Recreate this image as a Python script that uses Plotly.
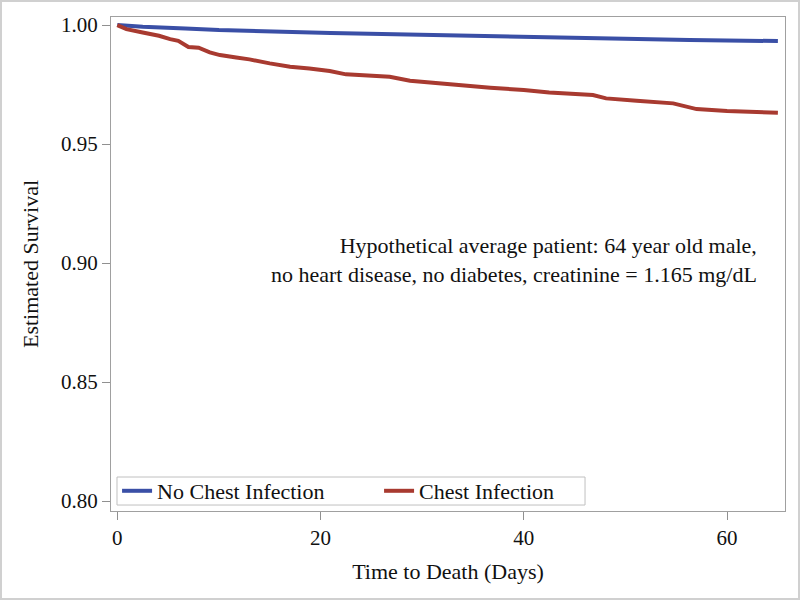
import plotly.graph_objects as go

# Data
days_no = [0, 2.5, 6.7, 10, 21, 27.5, 34, 40, 43.6, 47.5, 56.3, 65]
surv_no = [1.000, 0.9993, 0.9986, 0.9979, 0.9967, 0.9961, 0.9955, 0.9951, 0.9947, 0.9944, 0.9937, 0.9933]

days_ci = [0, 0.9, 2.5, 4.1, 5.2, 6.0, 7.0, 8.0, 9.1, 10.1, 11.7, 13.0, 15.0, 17.0, 18.9, 20.9,
           22.5, 26.8, 28.8, 32.4, 36.7, 40.0, 42.5, 46.8, 48.1, 51.1, 54.7, 57.0, 60.0, 65.0]
surv_ci = [1.000, 0.9983, 0.9969, 0.9955, 0.9941, 0.9934, 0.9908, 0.9905, 0.9885, 0.9874, 0.9864,
           0.9856, 0.9839, 0.9825, 0.9818, 0.9807, 0.9793, 0.9783, 0.9766, 0.9752, 0.9737, 0.9727,
           0.9717, 0.9706, 0.9692, 0.9682, 0.9671, 0.9647, 0.9639, 0.9632]

x_ticks = [0, 20, 40, 60]
y_ticks = [0.80, 0.85, 0.90, 0.95, 1.00]
y_tick_labels = ["0.80", "0.85", "0.90", "0.95", "1.00"]

FONT = "Times New Roman, Liberation Serif, serif"
BLUE = "#3A4FA6"
RED = "#A83A30"

fig = go.Figure()
fig.add_trace(go.Scatter(x=days_no, y=surv_no, mode="lines", name="No Chest Infection",
                         line=dict(color=BLUE, width=4)))
fig.add_trace(go.Scatter(x=days_ci, y=surv_ci, mode="lines", name="Chest Infection",
                         line=dict(color=RED, width=4)))

fig.update_layout(
    width=800, height=600,
    margin=dict(l=111, r=15, t=17, b=89),
    paper_bgcolor="white", plot_bgcolor="white",
    font=dict(family=FONT, color="#111"),
    showlegend=True,
    legend=dict(orientation="h", x=0.009, y=0.0405, xanchor="left", yanchor="middle",
                borderwidth=0, bgcolor="rgba(0,0,0,0)",
                font=dict(family=FONT, size=22, color="#111"),
                entrywidth=217, entrywidthmode="pixels", tracegroupgap=0),
    xaxis=dict(range=[-0.62, 65.7], tickvals=x_ticks, ticks="outside", ticklen=8,
               tickcolor="#909090", showgrid=False, zeroline=False, automargin=False,
               showline=True, linecolor="#a0a0a0", linewidth=1, mirror=True,
               tickfont=dict(family=FONT, size=21, color="#111"),
               title=dict(text="Time to Death (Days)", font=dict(family=FONT, size=22, color="#111"),
                          standoff=14)),
    yaxis=dict(range=[0.7958, 1.0034], tickvals=y_ticks, ticktext=y_tick_labels,
               ticks="outside", ticklen=8, tickcolor="#909090", showgrid=False, zeroline=False,
               automargin=False,
               showline=True, linecolor="#a0a0a0", linewidth=1, mirror=True,
               tickfont=dict(family=FONT, size=21, color="#111"),
               title=dict(text="Estimated Survival", font=dict(family=FONT, size=22, color="#111"),
                          standoff=16)),
    annotations=[dict(xref="paper", yref="paper", x=0.9614, y=0.509, xanchor="right", yanchor="middle",
                      align="right", showarrow=False,
                      text="Hypothetical average patient: 64 year old male,<br>no heart disease, no diabetes, creatinine = 1.165 mg/dL",
                      font=dict(family=FONT, size=22, color="#111"))],
    shapes=[
        dict(type="rect", xref="paper", yref="paper", x0=-0.1632, x1=1.0208, y0=-0.178, y1=1.0324,
             line=dict(color="#d0d0d0", width=2), layer="below"),
        dict(type="rect", xref="paper", yref="paper", x0=0.0089, x1=0.7033, y0=0.0121, y1=0.0688,
             line=dict(color="#c0c0c0", width=1), fillcolor="white", layer="below"),
    ],
)

fig.write_html("out.html", config={"displayModeBar": False},
               post_script="document.body.style.margin='0';")
